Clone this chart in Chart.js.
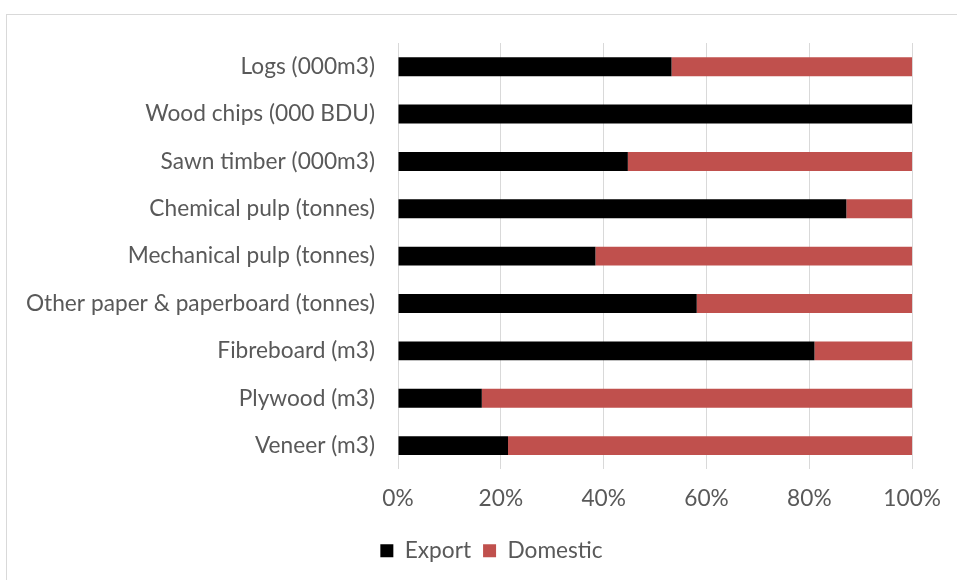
<!DOCTYPE html>
<html>
<head>
<meta charset="utf-8">
<script src="https://cdn.jsdelivr.net/npm/chart.js@4/dist/chart.umd.min.js"></script>
<style>
  html, body { margin: 0; padding: 0; background: #fff; overflow: hidden; }
  #frame { position: absolute; left: 6px; top: 14px; width: 1100px; height: 800px; border: 1px solid #d9d9d9; box-sizing: border-box; }
  #wrap { position: absolute; left: 0; top: 0; width: 957px; height: 580px; }
</style>
</head>
<body>
<div id="frame"></div>
<div id="wrap"><canvas id="c" width="957" height="580"></canvas></div>
<script>
const categories = [
  "Logs (000m3)",
  "Wood chips (000 BDU)",
  "Sawn timber (000m3)",
  "Chemical pulp (tonnes)",
  "Mechanical pulp (tonnes)",
  "Other paper & paperboard (tonnes)",
  "Fibreboard (m3)",
  "Plywood (m3)",
  "Veneer (m3)"
];
const exportShare   = [53.2, 100, 44.7, 87.2, 38.4, 58.1, 81.0, 16.3, 21.4];
const domesticShare = [46.8, 0, 55.3, 12.8, 61.6, 41.9, 19.0, 83.7, 78.6];
const xTicks = [0, 20, 40, 60, 80, 100];

const FONT = "Lato";
const TXT = "#595959";

const shiftLegend = {
  id: "shiftLegend",
  afterLayout(chart) {
    if (chart.legend) { chart.legend.left += 35; chart.legend.right += 35; }
  }
};

new Chart(document.getElementById("c"), {
  type: "bar",
  data: {
    labels: categories,
    datasets: [
      { label: "Export", data: exportShare, backgroundColor: "#000000", barPercentage: 0.4, categoryPercentage: 1 },
      { label: "Domestic", data: domesticShare, backgroundColor: "#C0504D", barPercentage: 0.4, categoryPercentage: 1 }
    ]
  },
  plugins: [shiftLegend],
  options: {
    indexAxis: "y",
    responsive: false,
    animation: false,
    layout: { padding: { left: 0, right: 44, top: 43, bottom: 8 } },
    plugins: {
      legend: {
        position: "bottom",
        labels: { boxWidth: 13, boxHeight: 13, padding: 12, color: TXT, font: { family: FONT, size: 22.7 } }
      },
      tooltip: { enabled: false }
    },
    scales: {
      x: {
        stacked: true,
        min: 0, max: 100,
        afterBuildTicks: (axis) => { axis.ticks = xTicks.map(v => ({ value: v })); },
        afterFit: (axis) => { axis.height = 58; },
        grid: { color: "#d9d9d9", lineWidth: 1, drawTicks: false },
        border: { display: false },
        ticks: { color: TXT, padding: 16, font: { family: FONT, size: 22.7 }, callback: (v) => v + "%" }
      },
      y: {
        stacked: true,
        afterFit: (axis) => { axis.width = 398; },
        grid: { display: false, drawTicks: false },
        border: { display: false },
        ticks: { color: TXT, padding: 23, font: { family: FONT, size: 22.7 } }
      }
    }
  }
});
</script>
</body>
</html>
